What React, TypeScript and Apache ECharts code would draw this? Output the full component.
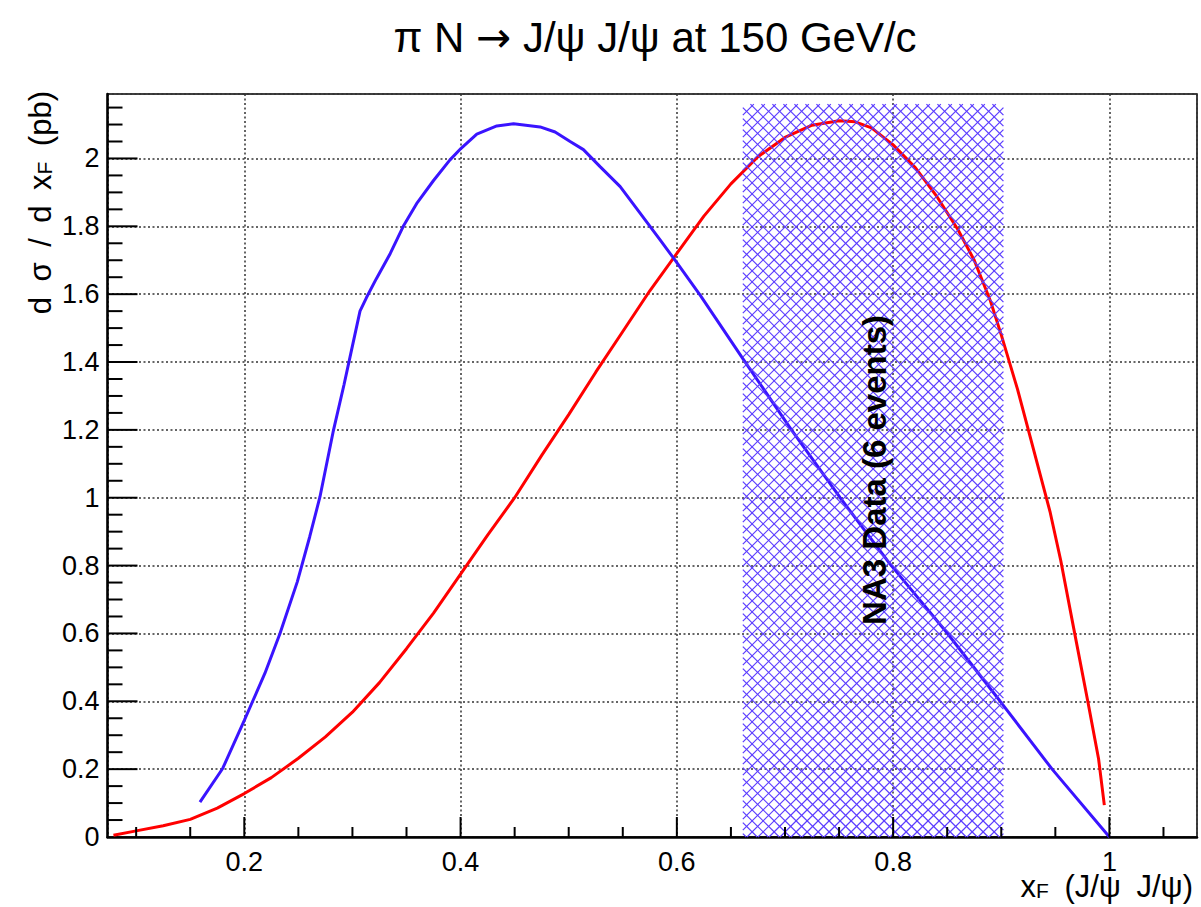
import React, { useEffect, useRef } from "react";
import * as echarts from "echarts";

// ---- data ----
const blueX = [0.159, 0.18, 0.2, 0.219, 0.233, 0.249, 0.2605, 0.27, 0.2824, 0.2922, 0.2978, 0.307, 0.313, 0.322, 0.335, 0.347, 0.36, 0.375, 0.39, 0.4005, 0.415, 0.4335, 0.449, 0.4735, 0.4874, 0.5013, 0.5136, 0.529, 0.5476, 0.566, 0.5845, 0.597, 0.622, 0.661, 0.706, 0.751, 0.797, 0.849, 0.899, 0.947, 1.0];
const blueY = [0.103, 0.202, 0.344, 0.482, 0.6, 0.752, 0.885, 1.003, 1.198, 1.333, 1.415, 1.55, 1.59, 1.645, 1.72, 1.8, 1.87, 1.935, 1.995, 2.03, 2.072, 2.096, 2.102, 2.093, 2.078, 2.05, 2.026, 1.976, 1.917, 1.839, 1.76, 1.706, 1.595, 1.41, 1.2, 1.0, 0.805, 0.605, 0.4, 0.2, 0.0];

const redX = [0.079, 0.1, 0.125, 0.15, 0.175, 0.2, 0.225, 0.25, 0.275, 0.3, 0.325, 0.35, 0.375, 0.4, 0.425, 0.45, 0.475, 0.5, 0.525, 0.55, 0.575, 0.6, 0.625, 0.65, 0.675, 0.7, 0.725, 0.75, 0.765, 0.78, 0.8, 0.82, 0.84, 0.86, 0.875, 0.89, 0.9, 0.915, 0.93, 0.945, 0.955, 0.967, 0.98, 0.99, 0.9953];
const redY = [0.005, 0.018, 0.033, 0.052, 0.085, 0.128, 0.175, 0.232, 0.295, 0.368, 0.455, 0.555, 0.66, 0.775, 0.89, 1.0, 1.125, 1.245, 1.37, 1.49, 1.61, 1.72, 1.83, 1.925, 2.005, 2.062, 2.098, 2.111, 2.108, 2.09, 2.04, 1.975, 1.89, 1.79, 1.7, 1.58, 1.48, 1.32, 1.14, 0.96, 0.815, 0.615, 0.4, 0.23, 0.094];

const xRange = [0.0735, 1.081];
const yRange = [0, 2.19];
const xMajorTicks = [0.2, 0.4, 0.6, 0.8, 1.0];
const xMinorTicks = [0.1, 0.15, 0.25, 0.3, 0.35, 0.45, 0.5, 0.55, 0.65, 0.7, 0.75, 0.85, 0.9, 0.95, 1.05];
const yMajorTicks = [0.2, 0.4, 0.6, 0.8, 1.0, 1.2, 1.4, 1.6, 1.8, 2.0];
const yMinorTicks = [0.05, 0.1, 0.15, 0.25, 0.3, 0.35, 0.45, 0.5, 0.55, 0.65, 0.7, 0.75, 0.85, 0.9, 0.95, 1.05, 1.1, 1.15, 1.25, 1.3, 1.35, 1.45, 1.5, 1.55, 1.65, 1.7, 1.75, 1.85, 1.9, 1.95, 2.05, 2.1, 2.15];

const bandX = [0.661, 0.902];
const bandTop = 2.16;
const bandLabel = "NA3 Data (6 events)";
const bandLabelPos = [0.783, 1.082];

const SP = "\u2002";
const FONT = "'Liberation Sans', Arial, Helvetica, sans-serif";
const BLUE = "#3a14ff";
const RED = "#ff0000";
const HATCH = "#5b3cff";

function isMajor(v: number) {
  const k = v / 0.2;
  return Math.abs(k - Math.round(k)) < 1e-6;
}
function fmt(v: number) {
  if (!isMajor(v)) return "";
  return String(Math.round(v * 10) / 10);
}

export default function App() {
  const ref = useRef<HTMLDivElement>(null);
  useEffect(() => {
    if (!ref.current) return;
    const chart = echarts.init(ref.current, undefined, { renderer: "svg" });
    const tickStyle = { stroke: "#000", lineWidth: 2 };
    const option: any = {
      animation: false,
      backgroundColor: "#ffffff",
      title: {
        text: `{t|\u03c0 N }{a|\u2192}{t| J/\u03c8 J/\u03c8 at 150 GeV/c}`,
        left: 650,
        top: 11,
        textAlign: "center",
        textStyle: {
          fontFamily: FONT,
          fontSize: 42,
          fontWeight: "normal",
          color: "#000",
          rich: {
            t: { fontFamily: FONT, fontSize: 42, color: "#000" },
            a: { fontFamily: "'DejaVu Sans', sans-serif", fontSize: 42, color: "#000" },
          },
        },
      },
      grid: {
        left: 107.5,
        right: 4,
        top: 94,
        bottom: 70,
        show: true,
        borderColor: "#000",
        borderWidth: 1.5,
        backgroundColor: "transparent",
      },
      xAxis: {
        type: "value",
        min: xRange[0],
        max: xRange[1],
        splitNumber: 5,
        name: `{n|x}{s|F}{n|${SP}(J/\u03c8${SP}J/\u03c8)}`,
        nameLocation: "end",
        nameGap: -4,
        nameMoveOverlap: false,
        nameTextStyle: {
          align: "right",
          verticalAlign: "top",
          padding: [34, 0, 0, 0],
          fontFamily: FONT,
          color: "#000",
          rich: {
            n: { fontFamily: FONT, fontSize: 31, color: "#000", padding: [0, 0, 8, 0] },
            s: { fontFamily: FONT, fontSize: 21, color: "#000" },
          },
        },
        axisLine: { show: true, onZero: false, lineStyle: { color: "#000", width: 2.5 } },
        axisTick: { show: false },
        minorTick: { show: false },
        axisLabel: {
          formatter: fmt,
          margin: 11,
          fontFamily: FONT,
          fontSize: 27,
          color: "#000",
        },
        splitLine: { show: true, lineStyle: { color: "#333", type: [2, 2.5], width: 1.5 } },
      },
      yAxis: {
        type: "value",
        min: yRange[0],
        max: yRange[1],
        interval: 0.2,
        name: `{n|d${SP}\u03c3${SP}/${SP}d${SP}x}{s|F}{n|${SP}(pb)}`,
        nameLocation: "end",
        nameRotate: 90,
        nameGap: 3,
        nameMoveOverlap: false,
        nameTextStyle: {
          align: "right",
          verticalAlign: "bottom",
          padding: [0, 0, 44, 0],
          fontFamily: FONT,
          color: "#000",
          rich: {
            n: { fontFamily: FONT, fontSize: 31, color: "#000", padding: [0, 0, 8, 0] },
            s: { fontFamily: FONT, fontSize: 21, color: "#000" },
          },
        },
        axisLine: { show: true, onZero: false, lineStyle: { color: "#000", width: 2.5 } },
        axisTick: { show: false },
        minorTick: { show: false },
        axisLabel: {
          formatter: fmt,
          margin: 8,
          fontFamily: FONT,
          fontSize: 27,
          color: "#000",
        },
        splitLine: { show: true, lineStyle: { color: "#333", type: [2, 2.5], width: 1.5 } },
      },
      series: [
        {
          type: "line",
          name: "red",
          data: redX.map((x, i) => [x, redY[i]]),
          showSymbol: false,
          symbol: "none",
          lineStyle: { color: RED, width: 3 },
          z: 3,
        },
        {
          type: "line",
          name: "blue",
          data: blueX.map((x, i) => [x, blueY[i]]),
          showSymbol: false,
          symbol: "none",
          lineStyle: { color: BLUE, width: 3 },
          z: 4,
        },
        {
          type: "custom",
          name: "hatch",
          z: 5,
          clip: false,
          data: [[bandX[0], bandX[1], bandTop]],
          encode: { x: [0, 1], y: 2 },
          renderItem: (params: any, api: any) => {
            const a = api.coord([api.value(0), 0]);
            const b = api.coord([api.value(1), api.value(2)]);
            const L = a[0], R = b[0], B = a[1], T = b[1];
            const d = 11;
            const children: any[] = [];
            const st = { stroke: HATCH, lineWidth: 1.2 };
            for (let c = T - R; c <= B - L; c += d) {
              const xs = Math.max(L, T - c), xe = Math.min(R, B - c);
              if (xe > xs) children.push({ type: "line", shape: { x1: xs, y1: xs + c, x2: xe, y2: xe + c }, style: st });
            }
            for (let c = T + L; c <= B + R; c += d) {
              const xs = Math.max(L, c - B), xe = Math.min(R, c - T);
              if (xe > xs) children.push({ type: "line", shape: { x1: xs, y1: c - xs, x2: xe, y2: c - xe }, style: st });
            }
            return { type: "group", children };
          },
        },
        {
          type: "custom",
          name: "bandLabel",
          z: 6,
          clip: false,
          data: [[bandLabelPos[0], bandLabelPos[1]]],
          encode: { x: 0, y: 1 },
          renderItem: (params: any, api: any) => {
            const p = api.coord([api.value(0), api.value(1)]);
            return {
              type: "text",
              x: p[0],
              y: p[1],
              rotation: Math.PI / 2,
              style: {
                text: bandLabel,
                fill: "#000",
                font: `bold 33px ${FONT}`,
                align: "center",
                verticalAlign: "middle",
              },
            };
          },
        },
        {
          type: "custom",
          name: "xTicks",
          z: 7,
          clip: false,
          data: [...xMajorTicks, ...xMinorTicks].map((v) => [v, yRange[0]]),
          encode: { x: 0, y: 1 },
          renderItem: (params: any, api: any) => {
            const v = api.value(0);
            const p = api.coord([v, api.value(1)]);
            const len = isMajor(v) ? 20 : 10;
            return { type: "line", shape: { x1: p[0], y1: p[1], x2: p[0], y2: p[1] - len }, style: tickStyle };
          },
        },
        {
          type: "custom",
          name: "yTicks",
          z: 7,
          clip: false,
          data: [...yMajorTicks, ...yMinorTicks].map((v) => [xRange[0], v]),
          encode: { x: 0, y: 1 },
          renderItem: (params: any, api: any) => {
            const v = api.value(1);
            const p = api.coord([api.value(0), v]);
            const len = isMajor(v) ? 30 : 15;
            return { type: "line", shape: { x1: p[0], y1: p[1], x2: p[0] + len, y2: p[1] }, style: tickStyle };
          },
        },
      ],
    };
    chart.setOption(option);
    return () => chart.dispose();
  }, []);
  return (
    <div
      ref={ref}
      style={{ position: "absolute", left: 0, top: 0, width: 1201, height: 907, background: "#fff" }}
    />
  );
}
